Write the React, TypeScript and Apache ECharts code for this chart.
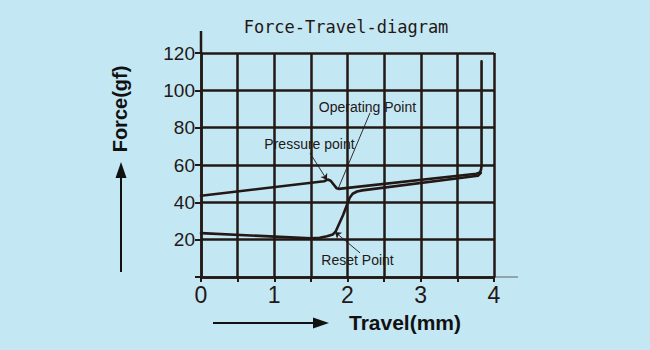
import React, { useEffect, useRef } from "react";
import * as echarts from "echarts";

// ---- data ----
const xTicks = [0, 1, 2, 3, 4];
const yTicks = [20, 40, 60, 80, 100, 120];
// pressing stroke (travel mm, force gf)
const pressCurve: [number, number][] = [
  [0, 43.5], [1.68, 51.3], [1.73, 52.2], [1.77, 51.6], [1.85, 47.6], [1.88, 47.2],
  [3.76, 55.3], [3.8, 55.9], [3.82, 57], [3.83, 59], [3.83, 115.5],
];
// return stroke
const returnCurve: [number, number][] = [
  [0, 23.5], [1.5, 20.7], [1.62, 21.0], [1.72, 21.8], [1.8, 22.8], [1.84, 24.5],
  [1.94, 33.2], [2.03, 42.5], [2.07, 44.6], [2.13, 45.8], [2.2, 46.4], [3.78, 54.2], [3.82, 55.8],
];
// annotations: label, label position, leader start, leader end, arrow
const annoNames = ["Operating Point", "Pressure point", "Reset Point"];
const annoLabelPos: [number, number][] = [[2.273, 91.1], [1.481, 71.2], [2.137, 9.1]];
const annoFrom: [number, number][] = [[2.307, 87.9], [1.488, 66.4], [2.171, 12.9]];
const annoTo: [number, number][] = [[1.87, 47.1], [1.72, 52.0], [1.829, 24.1]];
const annoArrow = [false, true, true];

const INK = "#231815";
const BG = "#c4e7f4";

export default function App() {
  const ref = useRef<HTMLDivElement>(null);
  useEffect(() => {
    document.body.style.margin = "0";
    const chart = echarts.init(ref.current!, null, { renderer: "svg" });
    const gridL = 201, gridR = 494, gridT = 53, gridB = 277;
    const staticGraphics: any[] = [
      // title
      {
        type: "text", x: 346, y: 27,
        style: {
          text: "Force-Travel-diagram", fill: INK, font: "17px 'DejaVu Sans Mono'",
          textAlign: "center", textVerticalAlign: "middle",
        },
      },
      // y axis extension above grid
      { type: "line", shape: { x1: gridL, y1: gridT, x2: gridL, y2: 31 }, style: { stroke: INK, lineWidth: 2.5 } },
      // x axis extension to the right (grey)
      { type: "line", shape: { x1: gridR, y1: gridB, x2: 518, y2: gridB }, style: { stroke: "#7f8e95", lineWidth: 1.5 } },
      // y name
      {
        type: "text", x: 120, y: 109, rotation: Math.PI / 2,
        style: {
          text: "Force(gf)", fill: "#111", font: "bold 20px 'Liberation Sans'",
          textAlign: "center", textVerticalAlign: "middle",
        },
      },
      { type: "line", shape: { x1: 121, y1: 272, x2: 121, y2: 176 }, style: { stroke: "#111", lineWidth: 2 } },
      { type: "polygon", shape: { points: [[121, 162], [115.5, 178], [126.5, 178]] }, style: { fill: "#111" } },
      // x name
      {
        type: "text", x: 405, y: 322,
        style: {
          text: "Travel(mm)", fill: "#111", font: "bold 21px 'Liberation Sans'",
          textAlign: "center", textVerticalAlign: "middle",
        },
      },
      { type: "line", shape: { x1: 213, y1: 323, x2: 315, y2: 323 }, style: { stroke: "#111", lineWidth: 2 } },
      { type: "polygon", shape: { points: [[329, 323], [313, 317.5], [313, 328.5]] }, style: { fill: "#111" } },
    ];
    const option: any = {
      animation: false,
      backgroundColor: BG,
      grid: { left: gridL, right: 650 - gridR, top: gridT, bottom: 350 - gridB, containLabel: false },
      xAxis: {
        type: "value", min: 0, max: 4, interval: 0.5,
        axisLine: { show: true, lineStyle: { color: INK, width: 2.5 } },
        axisTick: { show: true, length: 5, lineStyle: { color: INK, width: 2 } },
        splitLine: { show: true, lineStyle: { color: INK, width: 2.5 } },
        axisLabel: {
          color: INK, fontSize: 23, fontFamily: "Liberation Sans", margin: 6,
          formatter: (v: number) => (xTicks.includes(v) ? String(v) : ""),
        },
      },
      yAxis: {
        type: "value", min: 0, max: 120, interval: 20,
        axisLine: { show: true, lineStyle: { color: INK, width: 2.5 } },
        axisTick: { show: true, length: 6, lineStyle: { color: INK, width: 2 } },
        splitLine: { show: true, lineStyle: { color: INK, width: 2.5 } },
        axisLabel: {
          color: INK, fontSize: 19, fontFamily: "Liberation Sans", margin: 6,
          formatter: (v: number) => (yTicks.includes(v) ? String(v) : ""),
        },
      },
      series: [
        {
          type: "line", data: pressCurve, symbol: "none", silent: true, z: 3,
          lineStyle: { color: INK, width: 2.6, join: "round", cap: "round" },
        },
        {
          type: "line", data: returnCurve, symbol: "none", silent: true, z: 3,
          lineStyle: { color: INK, width: 2.6, join: "round", cap: "round" },
        },
        {
          type: "line", data: [], symbol: "none", z: 4,
          markLine: {
            silent: true, animation: false,
            symbolSize: 6,
            label: { show: false },
            lineStyle: { color: INK, width: 0.9, type: "solid" },
            data: annoNames.map((_, i) => [
              { coord: annoFrom[i], symbol: "none" },
              { coord: annoTo[i], symbol: annoArrow[i] ? "arrow" : "none" },
            ]),
          },
        },
      ],
      graphic: staticGraphics,
    };
    chart.setOption(option);
    const annoTexts = annoNames.map((n, i) => {
      const p = chart.convertToPixel({ gridIndex: 0 }, annoLabelPos[i]) as number[];
      return {
        type: "text", x: p[0], y: p[1], z: 10,
        style: {
          text: n, fill: INK, font: "14px 'Liberation Sans'",
          textAlign: "center", textVerticalAlign: "middle",
        },
      };
    });
    chart.setOption({ graphic: [...staticGraphics, ...annoTexts] });
    return () => chart.dispose();
  }, []);
  return <div ref={ref} style={{ width: 650, height: 350 }} />;
}
